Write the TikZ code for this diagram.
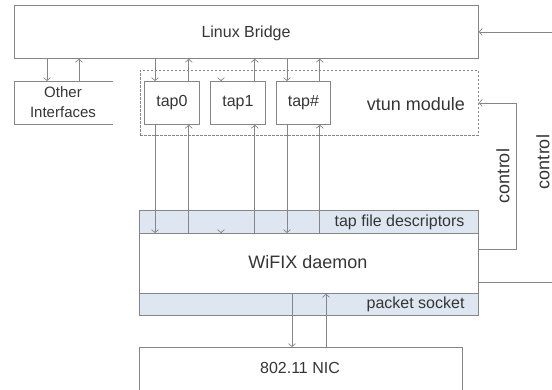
\documentclass[tikz,border=0pt]{standalone}
\usepackage{fontspec}
\setmainfont{Liberation Sans}
\usetikzlibrary{arrows.meta,calc}
\definecolor{ln}{HTML}{858585}
\definecolor{txt}{HTML}{353535}
\definecolor{strip}{HTML}{DEE7F1}
\begin{document}
\begin{tikzpicture}[x=1pt,y=-1pt,
  box/.style={draw=ln, line width=0.8pt, anchor=north west, inner sep=0pt, text=txt},
  arr/.style={draw=ln, line width=0.7pt, -{Straight Barb[length=3pt,width=7pt]}},
  lnk/.style={draw=ln, line width=0.7pt},
  lbl/.style={text=txt, font=\fontsize{16}{18}\selectfont},
  big/.style={text=txt, font=\fontsize{18}{20}\selectfont}]
\clip (0,0) rectangle (552,389);
% boxes
\node[box, minimum width=464pt, minimum height=53pt] (bridge) at (14,5) {};
\node[lbl] (bridgelbl) at (246,33) {Linux Bridge};
\node[anchor=north west, inner sep=0pt, minimum width=99pt, minimum height=43pt] (oi) at (14,81) {};
\draw[lnk, line width=0.8pt] (oi.north east) -- (oi.north west) -- (oi.south west) -- (oi.south east);
\node[lbl, align=center, font=\fontsize{15}{20}\selectfont] (oilbl) at (63,102) {Other\\Interfaces};
\node[box, dashed, dash pattern=on 2.5pt off 1.5pt, minimum width=338pt, minimum height=65pt] (vtun) at (140,70) {};
\node[big] (vtunlbl) at (416,104) {vtun module};
\node[box, lbl, minimum width=55pt, minimum height=43pt] (tap0) at (144,81) {tap0};
\node[box, lbl, minimum width=55pt, minimum height=43pt] (tap1) at (210,81) {tap1};
\node[box, lbl, minimum width=54pt, minimum height=43pt] (tapn) at (276,81) {tap\#};
\node[box, fill=strip, minimum width=339pt, minimum height=23pt] (fd) at (139,210) {};
\node[lbl, anchor=east] (fdlbl) at (468,222) {tap file descriptors};
\node[box, minimum width=339pt, minimum height=60pt] (wifix) at (139,233) {};
\node[big] (wifixlbl) at (308,262) {WiFIX daemon};
\node[box, fill=strip, minimum width=339pt, minimum height=22pt] (ps) at (139,293) {};
\node[lbl, anchor=east] (pslbl) at (468,304) {packet socket};
\node[box, minimum width=323pt, minimum height=60pt] (nic) at (139,347) {};
\node[lbl] (niclbl) at (300,368) {802.11 NIC};
% bridge <-> other interfaces
\coordinate (oid) at ($(oi.north west)+(33,0)$);
\coordinate (oiu) at ($(oi.north west)+(65,0)$);
\draw[arr] (oid |- bridge.south) -- (oid);
\draw[arr] (oiu) -- (oiu |- bridge.south);
% bridge <-> taps
\coordinate (t0d) at ($(tap0.north west)+(11,0)$);
\coordinate (t0u) at ($(tap0.north east)+(-11,0)$);
\coordinate (t1d) at ($(tap1.north west)+(11,0)$);
\coordinate (t1u) at ($(tap1.north east)+(-11,0)$);
\coordinate (tnd) at ($(tapn.north west)+(11,0)$);
\coordinate (tnu) at ($(tapn.north east)+(-11,0)$);
\draw[arr] (t0d |- bridge.south) -- (t0d);
\draw[arr] (t0u) -- (t0u |- bridge.south);
\draw[arr] ($(t1d)+(0,-1)$) -- (t1d);
\draw[arr] (t1u) -- (t1u |- bridge.south);
\draw[arr] (tnd |- bridge.south) -- (tnd);
\draw[arr] (tnu) -- (tnu |- bridge.south);
% taps <-> fd
\draw[arr] (t0d |- tap0.south) -- (t0d |- wifix.north);
\draw[arr] (t0u |- wifix.north) -- (t0u |- tap0.south);
\draw[arr] ($(t1d |- wifix.north)+(0,-1)$) -- (t1d |- wifix.north);
\draw[arr] (t1u |- wifix.north) -- (t1u |- tap1.south);
\draw[arr] (tnd |- tapn.south) -- (tnd |- wifix.north);
\draw[arr] (tnu |- wifix.north) -- (tnu |- tapn.south);
% packet socket <-> NIC
\coordinate (nd) at ($(nic.north west)+(153,0)$);
\coordinate (nu) at ($(nic.north west)+(187,0)$);
\draw[arr] (nd |- wifix.south) -- (nd);
\draw[arr] (nu) -- (nu |- wifix.south);
% control lines
\coordinate (redge) at (552,0);
\draw[arr] (redge |- bridge.east) -- (bridge.east);
\coordinate (c1) at (516,249);
\draw[arr] (wifix.east |- c1) -- (c1) |- (vtun.east);
\coordinate (c2) at (552,282);
\draw[lnk] (wifix.east |- c2) -- (c2);
\node[big, rotate=90] (ctl1) at (503,176) {control};
\node[big, rotate=90] (ctl2) at (543,162) {control};
\end{tikzpicture}
\end{document}
